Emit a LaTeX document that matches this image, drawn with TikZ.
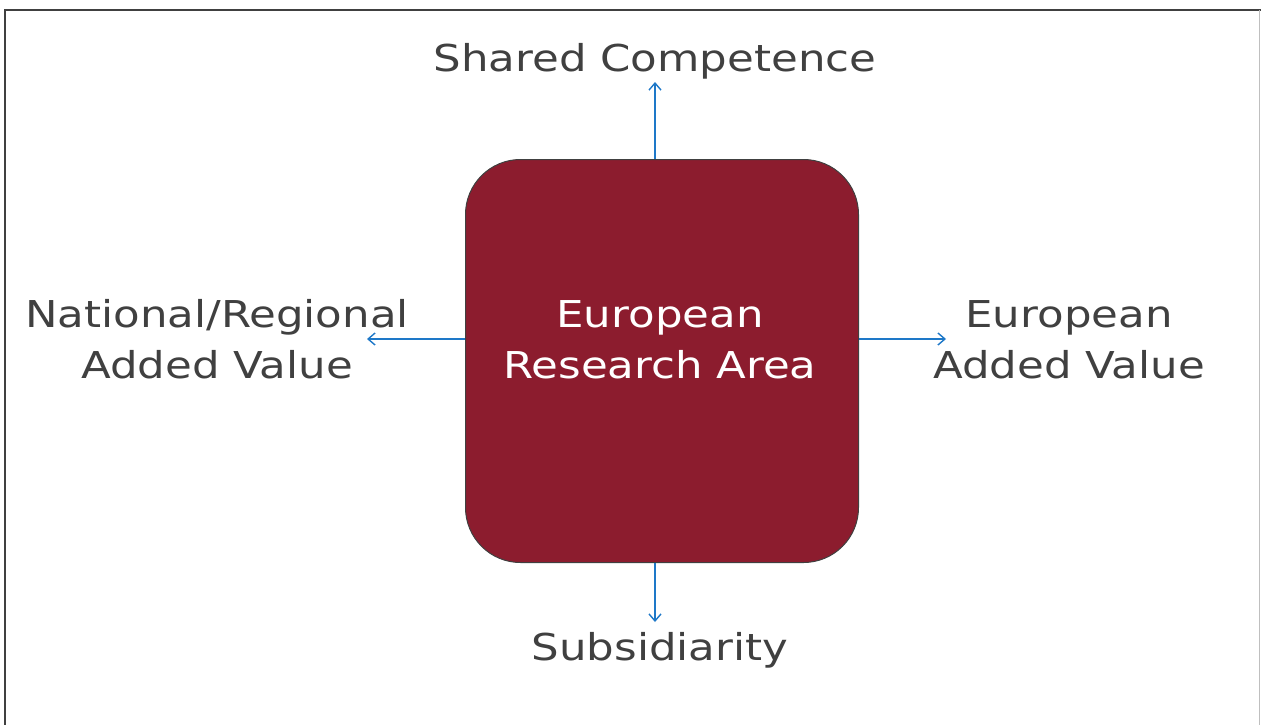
\documentclass[tikz,border=0pt]{standalone}
\usepackage{fontspec}
\setmainfont[FakeStretch=1.175]{DejaVu Sans}
\usetikzlibrary{arrows.meta}
\definecolor{boxred}{HTML}{8C1C2E}
\definecolor{txtgray}{HTML}{404040}
\definecolor{arrblue}{HTML}{1E78C8}
\begin{document}
\begin{tikzpicture}[x=1pt,y=-1pt,
  lbl/.style={font=\fontsize{37}{51}\selectfont, text=txtgray, align=center, inner sep=0pt},
  conn/.style={draw=arrblue, line width=1.4pt, -{Straight Barb[length=7pt,width=12pt,line width=1.4pt]}},
  erabox/.style={draw=txtgray, line width=1pt, fill=boxred, rounded corners=55pt, minimum width=393pt, minimum height=403pt, inner sep=0pt}]
\useasboundingbox (0,0) rectangle (1261,724);
\draw[txtgray, line width=2pt] (5,730) -- (5,10) -- (1262,10);
\draw[black!25, line width=1pt] (1259.5,10) -- (1259.5,730);
\node[erabox] (era) at (662,361) {};
\node[lbl, text=white, anchor=base] (eratxt) at (660,378) {European\\Research Area};
\node[lbl, anchor=base] (top) at (655,71) {Shared Competence};
\node[lbl, anchor=base] (bot) at (660,660) {Subsidiarity};
\node[lbl, anchor=base] (left) at (217,378) {National/Regional\\Added Value};
\node[lbl, anchor=base] (right) at (1069,378) {European\\Added Value};
\coordinate (ttop) at (655,82);
\coordinate (tbot) at (655,622);
\coordinate (tleft) at (367,339);
\coordinate (tright) at (946,339);
\draw[conn] (era.north -| ttop) -- (ttop);
\draw[conn] (era.south -| tbot) -- (tbot);
\draw[conn] (era.west |- tleft) -- (tleft);
\draw[conn] (era.east |- tright) -- (tright);
\end{tikzpicture}
\end{document}
